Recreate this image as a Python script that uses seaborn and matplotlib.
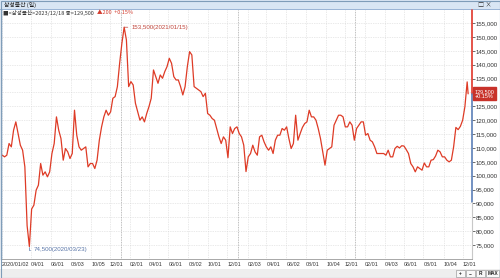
import pandas as pd
import numpy as np
import matplotlib
matplotlib.use("Agg")
import matplotlib.pyplot as plt
from matplotlib.patches import Rectangle
import seaborn as sns

# weekly closes (thousand KRW), Fridays from 2020-01-03
weekly_close = [
    107.4, 106.8, 107.4, 111.6, 110.4, 116.4, 119.4, 115.2, 111.0, 109.2,
    103.2, 82.0, 74.5, 88.0, 89.4, 94.8, 96.6, 104.4, 100.2, 101.4,
    99.6, 101.4, 108.0, 111.6, 121.2, 116.4, 113.4, 105.6, 109.8, 108.6,
    106.2, 108.0, 123.6, 114.6, 110.4, 109.2, 109.8, 110.4, 103.2, 104.4,
    104.4, 102.6, 105.6, 112.8, 117.6, 121.2, 123.6, 121.8, 123.0, 127.9,
    128.5, 132.1, 140.5, 147.7, 153.5, 148.9, 132.1, 133.9, 132.7, 126.1,
    123.0, 120.0, 121.2, 119.4, 122.4, 124.9, 127.9, 138.1, 135.7, 133.3,
    136.3, 135.1, 137.5, 139.3, 142.3, 140.5, 135.7, 134.5, 134.5, 132.1,
    129.1, 132.1, 139.3, 144.7, 143.5, 132.1, 131.5, 130.9, 130.3, 128.5,
    129.7, 122.4, 121.8, 120.6, 120.0, 117.0, 114.0, 111.6, 114.0, 112.8,
    106.5, 117.6, 115.2, 117.0, 117.6, 115.2, 114.0, 111.0, 101.5, 106.8,
    108.0, 111.0, 108.6, 107.4, 114.0, 114.6, 112.2, 110.4, 109.2, 110.4,
    108.0, 112.8, 114.6, 114.6, 117.0, 116.4, 117.6, 113.4, 109.8, 111.6,
    121.8, 112.8, 115.2, 117.4, 118.8, 119.4, 123.6, 121.2, 121.2, 120.0,
    117.0, 113.4, 108.6, 103.8, 109.2, 109.8, 110.4, 118.2, 120.0, 121.8,
    121.8, 121.2, 117.6, 117.6, 119.4, 118.2, 112.8, 117.0, 118.2, 119.4,
    119.4, 114.6, 115.2, 112.8, 112.2, 110.4, 108.0, 108.0, 108.0, 108.0,
    107.4, 109.2, 106.8, 106.8, 109.8, 110.6, 110.0, 110.8, 110.7, 109.4,
    108.0, 104.4, 103.2, 101.4, 103.2, 102.6, 102.0, 104.6, 103.2, 103.2,
    105.6, 105.8, 107.1, 109.2, 108.6, 106.8, 106.8, 105.6, 105.0, 105.6,
    110.4, 117.4, 116.6, 117.8, 120.0, 124.9, 133.8,
]
last_date = "2023-12-18"
last_close = 129.5

tick_dates = ["2020-01-02", "2020-04-01", "2020-06-01", "2020-08-03", "2020-10-05", "2020-12-01",
              "2021-02-01", "2021-04-01", "2021-06-01", "2021-08-02", "2021-10-01", "2021-12-01",
              "2022-02-03", "2022-04-01", "2022-06-02", "2022-08-01", "2022-10-04", "2022-12-01",
              "2023-02-01", "2023-04-03", "2023-06-01", "2023-08-01", "2023-10-04", "2023-12-01"]
tick_labels = ["2020/01/02", "04/01", "06/01", "08/03", "10/05", "12/01",
               "02/01", "04/01", "06/01", "08/02", "10/01", "12/01",
               "02/03", "04/01", "06/02", "08/01", "10/04", "12/01",
               "02/01", "04/03", "06/01", "08/01", "10/04", "12/01"]
year_starts = ["2021-01-04", "2022-01-03", "2023-01-02"]
y_ticks = list(range(75000, 155001, 5000))

dates = list(pd.date_range("2020-01-03", periods=len(weekly_close), freq="W-FRI")) + [pd.Timestamp(last_date)]
df = pd.DataFrame({"date": dates, "close": [v * 1000 for v in weekly_close] + [last_close * 1000]})

sns.set_theme(style="white")
plt.rcParams["font.family"] = ["Liberation Sans", "Noto Sans CJK KR", "DejaVu Sans"]
cjk = ["Noto Sans CJK KR", "DejaVu Sans"]

fig = plt.figure(figsize=(5, 2.78), dpi=100)
W, H = 500, 278
ax = fig.add_axes([1 / W, (H - 259) / H, 471 / W, (259 - 10) / H])

sns.lineplot(data=df, x="date", y="close", ax=ax, color="#de3b26", lw=0.9)

ax.set_xlim(pd.Timestamp("2019-12-30"), pd.Timestamp("2023-12-30"))
ax.set_ylim(70000, 159700)
ax.set_xlabel("")
ax.set_ylabel("")

# grid
for y in y_ticks:
    ax.axhline(y, color="#d4d4d4", lw=0.5, ls=(0, (1, 1.5)), zorder=0)
for d in tick_dates:
    ax.axvline(pd.Timestamp(d), color="#d4d4d4", lw=0.5, ls=(0, (1, 1.5)), zorder=0)
for d in year_starts:
    ax.axvline(pd.Timestamp(d), color="#a8a8a8", lw=0.6, ls=(0, (1, 1)), zorder=0)

ax.set_xticks([pd.Timestamp(d) for d in tick_dates])
ax.set_xticklabels(tick_labels, ha="left")
ax.tick_params(axis="x", labelsize=3.9, colors="#333333", length=0, pad=2.5)
ax.yaxis.tick_right()
ax.set_yticks(y_ticks)
ax.set_yticklabels([f"{v:,}" for v in y_ticks])
ax.tick_params(axis="y", labelsize=4.4, colors="#333333", length=2, width=0.5, pad=0.5)
for t in ax.get_xticklabels():
    t.set_x(0)

for s in ["top", "right"]:
    ax.spines[s].set_visible(False)
ax.spines["bottom"].set_color("#9a9a9a")
ax.spines["bottom"].set_linewidth(0.6)
ax.spines["left"].set_color("#6f8fb8")
ax.spines["left"].set_linewidth(1)

# right axis line: red above current price, blue below
ytr = ax.get_yaxis_transform()
ax.plot([1, 1], [last_close * 1000, 159700], color="#e0362a", lw=1.2, transform=ytr, clip_on=False)
ax.plot([1, 1], [90500, last_close * 1000], color="#5b7fb8", lw=1.2, transform=ytr, clip_on=False)
ax.plot([1, 1], [70000, 90500], color="#c8c8c8", lw=0.8, transform=ytr, clip_on=False)

# current price tag (covers the 130,000 label like the original)
tag = ax.text(1.006, last_close * 1000, "129,500\n+0.15%", transform=ytr, fontsize=4.0, color="white",
              va="center", ha="left", linespacing=1.0, zorder=10,
              bbox=dict(boxstyle="square,pad=0.25", fc="#c8322a", ec="#c8322a"))
for t in ax.get_yticklabels():
    if t.get_text() == "130,000":
        t.set_visible(False)

# max / min labels
imax = df["close"].idxmax()
imin = df["close"].idxmin()
ax.annotate("153,500(2021/01/15)", xy=(df["date"][imax], df["close"][imax]), xytext=(5, 0),
            textcoords="offset points", fontsize=4.4, color="#c0443a", va="center",
            arrowprops=dict(arrowstyle="-", color="#c0443a", lw=0.5, shrinkA=0, shrinkB=0))
ax.annotate("74,500(2020/03/23)", xy=(df["date"][imin], df["close"][imin]), xytext=(3, -2.5),
            textcoords="offset points", fontsize=4.4, color="#5a76a8", va="center",
            arrowprops=dict(arrowstyle="-", color="#5a76a8", lw=0.5, shrinkA=0, shrinkB=0,
                            connectionstyle="angle,angleA=0,angleB=90,rad=0"))

# header line inside the chart
h1 = fig.text(3 / W, 1 - 13 / H, "■<삼성물산>2023/12/18 종=129,500", fontsize=4.0, color="#333333",
              va="center", ha="left", family=cjk)
fig.canvas.draw()
bb = h1.get_window_extent()
fig.text((bb.x1 + 3) / W, 1 - 13 / H, "▲200  +0.15%", fontsize=4.0, color="#d23a2c",
         va="center", ha="left", family=cjk)

# title bar
fig.patches.append(Rectangle((0, 1 - 9.5 / H), 1, 9.5 / H, transform=fig.transFigure,
                             fc="#d9e6f4", ec="none", zorder=-1))
fig.patches.append(Rectangle((0, 1 - 10 / H), 1, 0.6 / H, transform=fig.transFigure,
                             fc="#9bb5d6", ec="none", zorder=-1))
fig.text(4 / W, 1 - 5 / H, "삼성물산 (일)", fontsize=4.2, color="#222222", va="center", ha="left", family=cjk)
fig.text(492 / W, 1 - 5 / H, "□ ×", fontsize=4.4, color="#333333", va="center", ha="right", family=cjk)

# bottom scroll bar
fig.patches.append(Rectangle((0, 0), 1, 9 / H, transform=fig.transFigure,
                             fc="#eeeeee", ec="none", zorder=-1))
for lab, x0, w in [("+", 456, 9), ("−", 466, 9), ("R", 476, 9), ("MAX", 486, 13)]:
    fig.patches.append(Rectangle((x0 / W, 1 / H), w / W, 7 / H, transform=fig.transFigure,
                                 fc="#f8f8f8", ec="#8a8a8a", lw=0.4))
    fig.text((x0 + w / 2) / W, 4.5 / H, lab, fontsize=3.4, color="#222222", ha="center", va="center",
             weight="bold")

fig.patches.append(Rectangle((0.5 / W, 0.5 / H), 1 - 1 / W, 1 - 1 / H, transform=fig.transFigure,
                             fc="none", ec="#7f9db9", lw=0.8))

fig.savefig("out.png", dpi=100)
